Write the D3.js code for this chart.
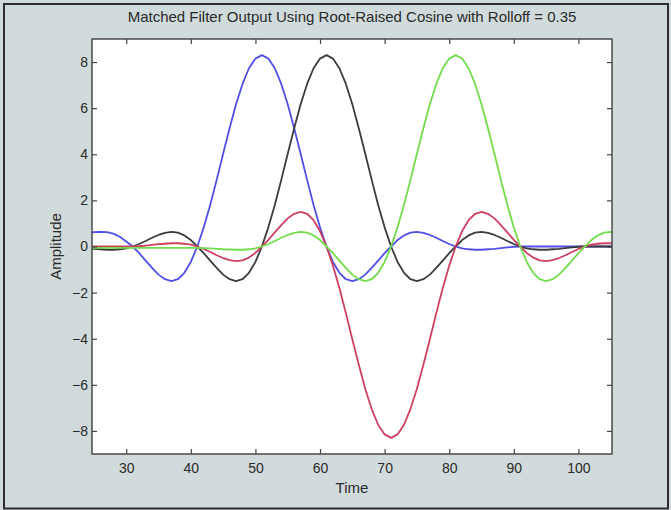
<!DOCTYPE html>
<html>
<head>
<meta charset="utf-8">
<script src="https://cdn.jsdelivr.net/npm/d3@7"></script>
<style>
  html, body { margin: 0; padding: 0; background: #d2dbdb; }
  svg { display: block; font-family: "Liberation Sans", Arial, sans-serif; }
</style>
</head>
<body>
<svg id="chart" width="671" height="510"></svg>
<script>
// samples of the matched filter output (one per time step)
const time = [24,25,26,27,28,29,30,31,32,33,34,35,36,37,38,39,40,41,42,43,44,45,46,47,48,49,50,51,52,53,54,55,56,57,58,59,60,61,62,63,64,65,66,67,68,69,70,71,72,73,74,75,76,77,78,79,80,81,82,83,84,85,86,87,88,89,90,91,92,93,94,95,96,97,98,99,100,101,102,103,104,105,106];

const blue = [0.58,0.62,0.63,0.62,0.56,0.42,0.22,0,-0.29,-0.61,-0.93,-1.22,-1.42,-1.50,-1.42,-1.14,-0.67,0,0.83,1.80,2.89,4.02,5.13,6.17,7.05,7.73,8.15,8.30,8.15,7.73,7.05,6.17,5.13,4.02,2.89,1.80,0.83,0,-0.67,-1.14,-1.42,-1.50,-1.42,-1.22,-0.93,-0.61,-0.29,0,0.28,0.48,0.60,0.63,0.59,0.50,0.38,0.24,0.11,0,-0.08,-0.12,-0.14,-0.14,-0.12,-0.10,-0.07,-0.04,-0.01,0,0,0,0,0,0,0,0,0,0,0,0,0,0,0,0];

const black = [-0.07,-0.10,-0.12,-0.14,-0.14,-0.12,-0.08,0,0.11,0.24,0.38,0.50,0.59,0.63,0.60,0.48,0.28,0,-0.29,-0.61,-0.93,-1.22,-1.42,-1.50,-1.42,-1.14,-0.67,0,0.83,1.80,2.89,4.02,5.13,6.17,7.05,7.73,8.15,8.30,8.15,7.73,7.05,6.17,5.13,4.02,2.89,1.80,0.83,0,-0.67,-1.14,-1.42,-1.50,-1.42,-1.22,-0.93,-0.61,-0.29,0,0.28,0.48,0.60,0.63,0.59,0.50,0.38,0.24,0.11,0,-0.08,-0.12,-0.14,-0.14,-0.12,-0.10,-0.07,-0.04,-0.01,0,0,0,0,0,0];

const red = [0,0,0,0,0,0,0,0,0.01,0.04,0.07,0.10,0.12,0.14,0.14,0.12,0.08,0,-0.11,-0.24,-0.38,-0.50,-0.59,-0.63,-0.60,-0.48,-0.28,0,0.29,0.61,0.93,1.22,1.42,1.50,1.42,1.14,0.67,0,-0.83,-1.80,-2.89,-4.02,-5.13,-6.17,-7.05,-7.73,-8.15,-8.30,-8.15,-7.73,-7.05,-6.17,-5.13,-4.02,-2.89,-1.80,-0.83,0,0.67,1.14,1.42,1.50,1.42,1.22,0.93,0.61,0.29,0,-0.28,-0.48,-0.60,-0.63,-0.59,-0.50,-0.38,-0.24,-0.11,0,0.08,0.12,0.14,0.14,0.12];

const green = [-0.06,-0.06,-0.06,-0.06,-0.06,-0.06,-0.06,-0.06,-0.06,-0.06,-0.06,-0.06,-0.06,-0.06,-0.06,-0.06,-0.06,-0.06,-0.07,-0.08,-0.10,-0.12,-0.13,-0.14,-0.14,-0.12,-0.08,0,0.11,0.24,0.38,0.50,0.59,0.63,0.60,0.48,0.28,0,-0.29,-0.61,-0.93,-1.22,-1.42,-1.50,-1.42,-1.14,-0.67,0,0.83,1.80,2.89,4.02,5.13,6.17,7.05,7.73,8.15,8.30,8.15,7.73,7.05,6.17,5.13,4.02,2.89,1.80,0.83,0,-0.67,-1.14,-1.42,-1.50,-1.42,-1.22,-0.93,-0.61,-0.29,0,0.28,0.48,0.60,0.63,0.59];

const series = [
  { name: 'blue',  values: blue,  color: '#5050e6' },
  { name: 'black', values: black, color: '#3c3c3c' },
  { name: 'red',   values: red,   color: '#cf3f62' },
  { name: 'green', values: green, color: '#72dc4c' }
];

const xTicks = [30, 40, 50, 60, 70, 80, 90, 100];
const yTicks = [-8, -6, -4, -2, 0, 2, 4, 6, 8];

const title = 'Matched Filter Output Using Root-Raised Cosine with Rolloff = 0.35';
const xLabel = 'Time';
const yLabel = 'Amplitude';

const svg = d3.select('#chart');
const W = 671, H = 510;
const plot = { left: 92, right: 612, top: 39, bottom: 454 };

svg.append('rect').attr('width', W).attr('height', H).attr('fill', '#d2dbdb');
// outer window frame
svg.append('rect').attr('x', 4).attr('y', 4).attr('width', 664).attr('height', 504.5)
  .attr('fill', 'none').attr('stroke', '#2e2e2e').attr('stroke-width', 2);

const x = d3.scaleLinear().domain([24.7, 105.2]).range([plot.left, plot.right]);
const y = d3.scaleLinear().domain([-9, 9]).range([plot.bottom, plot.top]);

svg.append('rect').attr('x', plot.left).attr('y', plot.top)
  .attr('width', plot.right - plot.left).attr('height', plot.bottom - plot.top)
  .attr('fill', '#ffffff');

svg.append('clipPath').attr('id', 'clip').append('rect')
  .attr('x', plot.left).attr('y', plot.top)
  .attr('width', plot.right - plot.left).attr('height', plot.bottom - plot.top);

const line = d3.line().x((d, i) => x(time[i])).y(d => y(d));

svg.append('g').attr('clip-path', 'url(#clip)')
  .selectAll('path').data(series).join('path')
  .attr('d', d => line(d.values))
  .attr('fill', 'none').attr('stroke', d => d.color)
  .attr('stroke-width', 1.8).attr('stroke-linejoin', 'round');

// axes, ticks pointing inward, box on
const tickStyle = g => {
  g.select('.domain').remove();
  g.selectAll('.tick line').attr('stroke', '#444').attr('stroke-width', 1.2);
  g.selectAll('.tick text').attr('fill', '#2a2a2a').attr('font-size', 14);
};

svg.append('g').attr('transform', `translate(0,${plot.bottom})`)
  .call(d3.axisBottom(x).tickValues(xTicks).tickSizeInner(-5).tickSizeOuter(0).tickPadding(9))
  .call(tickStyle);
svg.append('g').attr('transform', `translate(0,${plot.top})`)
  .call(d3.axisTop(x).tickValues(xTicks).tickSizeInner(-5).tickSizeOuter(0).tickFormat(''))
  .call(tickStyle);
svg.append('g').attr('transform', `translate(${plot.left},0)`)
  .call(d3.axisLeft(y).tickValues(yTicks).tickSizeInner(-5).tickSizeOuter(0).tickPadding(4))
  .call(tickStyle);
svg.append('g').attr('transform', `translate(${plot.right},0)`)
  .call(d3.axisRight(y).tickValues(yTicks).tickSizeInner(-5).tickSizeOuter(0).tickFormat(''))
  .call(tickStyle);

svg.append('rect').attr('x', plot.left).attr('y', plot.top)
  .attr('width', plot.right - plot.left).attr('height', plot.bottom - plot.top)
  .attr('fill', 'none').attr('stroke', '#4a4a4a').attr('stroke-width', 1.5);

svg.append('text').attr('x', (plot.left + plot.right) / 2).attr('y', 22)
  .attr('text-anchor', 'middle').attr('font-size', 15).attr('fill', '#2a2a2a').text(title);
svg.append('text').attr('x', (plot.left + plot.right) / 2).attr('y', 493)
  .attr('text-anchor', 'middle').attr('font-size', 15).attr('fill', '#2a2a2a').text(xLabel);
svg.append('text').attr('transform', `translate(61,${(plot.top + plot.bottom) / 2}) rotate(-90)`)
  .attr('text-anchor', 'middle').attr('font-size', 15).attr('fill', '#2a2a2a').text(yLabel);
</script>
</body>
</html>
